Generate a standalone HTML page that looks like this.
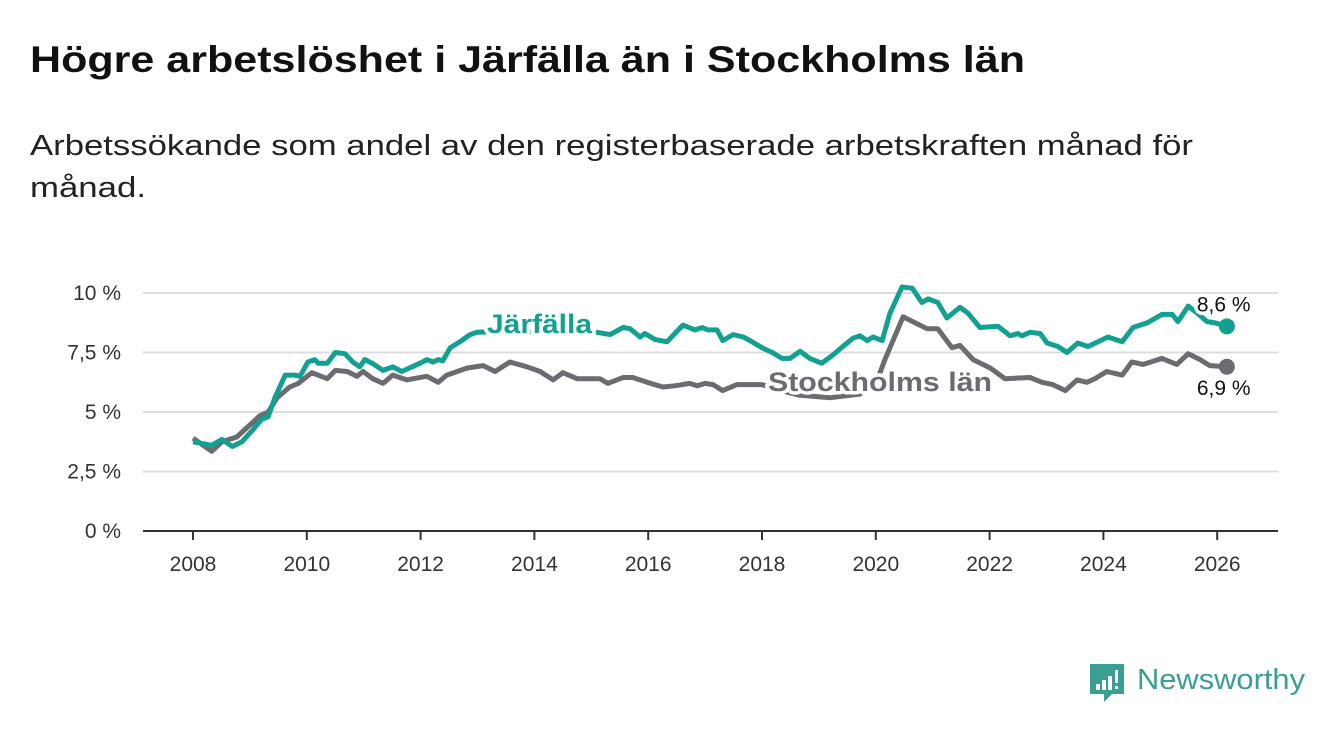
<!DOCTYPE html>
<html><head><meta charset="utf-8"><style>
body{margin:0;background:#fff;width:1340px;height:734px;overflow:hidden;font-family:"Liberation Sans",sans-serif}
</style></head><body>
<svg width="1340" height="734" xmlns="http://www.w3.org/2000/svg">
<text x="30" y="72" font-size="37" font-weight="bold" fill="#111" textLength="995" lengthAdjust="spacingAndGlyphs">Högre arbetslöshet i Järfälla än i Stockholms län</text>
<text x="30" y="155" font-size="29" fill="#222" textLength="1163" lengthAdjust="spacingAndGlyphs">Arbetssökande som andel av den registerbaserade arbetskraften månad för</text>
<text x="30" y="197" font-size="29" fill="#222" textLength="116" lengthAdjust="spacingAndGlyphs">månad.</text>
<g id="grid"></g><g id="axes"></g><g id="series"></g><g id="labels"></g>
<g>
<path d="M1090 664h34v30h-12l-8 8v-8h-14z" fill="#3a9e92"/>
<rect x="1096" y="684" width="4" height="6" fill="#fff"/><rect x="1102" y="680" width="4" height="10" fill="#fff"/><rect x="1108" y="676" width="4" height="14" fill="#fff"/><rect x="1115" y="670" width="3" height="13" fill="#fff"/><rect x="1115" y="686" width="3" height="3" fill="#fff"/>
<text x="1137" y="689" font-size="29" fill="#3a9e92" textLength="168" lengthAdjust="spacingAndGlyphs">Newsworthy</text>
</g>
</svg>
<script>
const yTicks=[0,2.5,5,7.5,10];
const yTickLabels=["0 %","2,5 %","5 %","7,5 %","10 %"];
const xTicks=[2008,2010,2012,2014,2016,2018,2020,2022,2024,2026];
const jarfallaYears=[0,.33,.51,.69,.86,1.05,1.21,1.32,1.44,1.62,1.79,1.88,2.02,2.14,2.2,2.36,2.5,2.67,2.81,2.93,3.02,3.15,3.34,3.51,3.67,3.85,3.99,4.11,4.22,4.31,4.39,4.52,4.69,4.87,4.99,5.57,6.1,6.63,7.1,7.33,7.56,7.68,7.86,7.94,8.12,8.33,8.47,8.61,8.82,8.95,9.05,9.21,9.31,9.49,9.67,9.79,10.0,10.18,10.35,10.49,10.67,10.84,11.05,11.25,11.42,11.6,11.72,11.85,11.95,12.11,12.25,12.46,12.64,12.81,12.92,13.09,13.25,13.48,13.62,13.83,14.15,14.36,14.5,14.57,14.71,14.89,15.01,15.2,15.36,15.55,15.73,16.08,16.33,16.52,16.77,17.03,17.21,17.31,17.49,17.65,17.82,17.96,18.17];
const jarfallaValues=[3.75,3.6,3.85,3.55,3.75,4.25,4.7,4.8,5.6,6.55,6.55,6.5,7.1,7.2,7.05,7.05,7.5,7.45,7.1,6.9,7.2,7.05,6.75,6.9,6.7,6.9,7.05,7.2,7.1,7.2,7.15,7.7,7.95,8.25,8.35,8.4,8.35,8.3,8.35,8.25,8.55,8.5,8.15,8.3,8.05,7.95,8.3,8.65,8.45,8.55,8.45,8.45,8.0,8.25,8.15,8.0,7.7,7.5,7.25,7.25,7.55,7.25,7.05,7.4,7.75,8.1,8.2,8.0,8.15,8.0,9.15,10.25,10.2,9.6,9.75,9.6,8.95,9.4,9.15,8.55,8.6,8.2,8.3,8.2,8.35,8.3,7.9,7.75,7.5,7.9,7.75,8.15,7.95,8.55,8.75,9.1,9.1,8.8,9.45,9.15,8.8,8.75,8.6];
const stockholmYears=[0,.33,.51,.77,.95,1.18,1.32,1.48,1.7,1.85,2.09,2.36,2.5,2.71,2.88,2.99,3.16,3.34,3.51,3.76,3.87,4.11,4.31,4.46,4.82,5.1,5.31,5.57,5.87,6.1,6.33,6.5,6.75,7.15,7.29,7.56,7.73,7.98,8.26,8.47,8.73,8.86,9.0,9.14,9.31,9.56,10.0,10.32,10.67,11.2,11.72,12.02,12.16,12.48,12.65,12.9,13.09,13.34,13.48,13.71,14.01,14.27,14.71,14.92,15.11,15.33,15.54,15.71,15.85,16.06,16.24,16.33,16.5,16.7,17.03,17.29,17.49,17.7,17.87,18.17];
const stockholmValues=[3.9,3.35,3.75,3.95,4.35,4.85,5.0,5.6,6.05,6.2,6.65,6.4,6.75,6.7,6.5,6.7,6.4,6.2,6.55,6.35,6.4,6.5,6.25,6.55,6.85,6.95,6.7,7.1,6.9,6.7,6.35,6.65,6.4,6.4,6.2,6.45,6.45,6.25,6.05,6.1,6.2,6.1,6.2,6.15,5.9,6.15,6.15,5.9,5.7,5.6,5.75,6.3,7.2,9.0,8.8,8.5,8.5,7.7,7.8,7.2,6.85,6.4,6.45,6.25,6.15,5.9,6.35,6.25,6.4,6.7,6.6,6.55,7.1,7.0,7.25,7.0,7.45,7.2,6.95,6.9];
const NS="http://www.w3.org/2000/svg";
const X=y=>193+(y-2008)*56.9, Y=v=>531-v*23.8;
function mk(tag,attrs,parent){const e=document.createElementNS(NS,tag);for(const k in attrs)e.setAttribute(k,attrs[k]);document.getElementById(parent).appendChild(e);return e;}
yTicks.forEach((t,i)=>{
 if(t>0){const g=mk('line',{x1:143,x2:1278,y1:Y(t),y2:Y(t),stroke:'#ddd','stroke-width':2},'grid');
 
 }
 const l=mk('text',{x:121,y:Y(t)+7,'text-anchor':'end','font-size':21,fill:'#333'},'axes');l.textContent=yTickLabels[i];
 
 
});
const ax=mk('line',{x1:143,x2:1278,y1:531,y2:531,stroke:'#333','stroke-width':2},'axes');


xTicks.forEach(t=>{
 const tk=mk('line',{x1:X(t),x2:X(t),y1:531,y2:540,stroke:'#333','stroke-width':2},'axes');
 
 
 const l=mk('text',{x:X(t),y:571,'text-anchor':'middle','font-size':21,fill:'#333'},'axes');l.textContent=t;
 
 
});
function line(ys,vs,color,name){
 const d=ys.map((y,i)=>(i?'L':'M')+X(2008+y).toFixed(1)+' '+Y(vs[i]).toFixed(1)).join('');
 const p=mk('path',{d:d,fill:'none',stroke:color,'stroke-width':5,'stroke-linejoin':'round'},'series');
 
 
 const n=ys.length-1;
 const c=mk('circle',{cx:X(2008+ys[n]),cy:Y(vs[n]),r:8,fill:color},'series');
 
 
 return [X(2008+ys[n]),Y(vs[n]),vs[n]];
}
const s=line(stockholmYears,stockholmValues,'#6c6b71','stockholm');
const j=line(jarfallaYears,jarfallaValues,'#12a190','jarfalla');
function lab(x,y,txt,size,color,w,name,len){
 const a={x:x,y:y,'font-size':size,'font-weight':w,fill:color,stroke:'#fff','stroke-width':7,'paint-order':'stroke','stroke-linejoin':'round'};
 if(len){a.textLength=len;a.lengthAdjust='spacingAndGlyphs';}
 const t=mk('text',a,'labels');t.textContent=txt;
 
 
}
lab(487,333,'Järfälla',27,'#12a190','bold','jarfalla-label',105);
lab(768,391,'Stockholms län',27,'#6c6b71','bold','stockholm-label',224);
lab(j[0]-30,j[1]-15,j[2].toFixed(1).replace('.',',')+' %',21,'#111','normal','jarfalla-value-label');
lab(s[0]-30,s[1]+28,s[2].toFixed(1).replace('.',',')+' %',21,'#111','normal','stockholm-value-label');
</script>
</body></html>
